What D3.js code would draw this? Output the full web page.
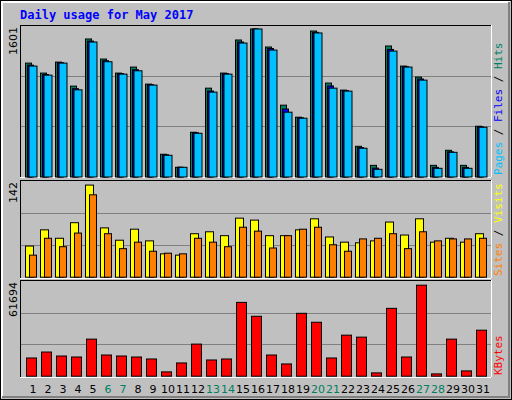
<!DOCTYPE html>
<html><head><meta charset="utf-8">
<script src="https://cdn.jsdelivr.net/npm/d3@7"></script>
<style>body{margin:0;background:#fff}svg{display:block}</style>
</head><body><div id="chart"></div>
<script>
const days = d3.range(1, 32);
const weekend = [6, 7, 13, 14, 20, 21, 27, 28];
const hits = [1232,1124,1243,983,1493,1276,1124,1189,1005,246,105,484,961,1124,1482,1601,1406,777,647,1579,1016,940,332,126,1417,1200,1081,126,289,126,549];
const files = [1210,1108,1236,955,1470,1258,1118,1160,998,240,105,478,930,1118,1460,1601,1390,735,640,1565,985,934,318,96,1380,1193,1060,104,272,104,542];
const pages = [1200,1102,1232,943,1460,1247,1113,1149,994,235,105,473,918,1113,1449,1601,1373,701,636,1558,961,929,311,83,1362,1189,1048,94,267,94,538];
const visits = [48,73,60,84,142,76,57,74,56,36,34,67,70,64,91,88,64,64,73,90,62,54,53,56,85,65,90,54,60,54,67];
const sites = [34,60,47,68,127,67,44,54,40,37,36,60,54,47,77,71,45,64,74,77,50,40,59,60,67,44,70,56,59,59,60];
const kbytes = [12338,16376,13684,13011,25125,14357,13684,13011,11666,2916,8973,21760,10993,11666,50027,40605,14357,8300,42624,36567,12338,27818,26471,2243,45990,13011,61694,1570,25125,3589,31183];

const C = { hits: '#008060', files: '#0000ff', pages: '#00c0ff', visits: '#ffff00', sites: '#ff8000', kb: '#ff0000', bg: '#c0c0c0' };

const svg = d3.select('#chart').append('svg').attr('width', 512).attr('height', 400)
  .style('font-family', 'DejaVu Sans, sans-serif');
svg.append('rect').attr('width', 512).attr('height', 400).attr('fill', C.bg);
// bevelled outer frame
svg.append('rect').attr('x', 0.5).attr('y', 0.5).attr('width', 511).attr('height', 399).attr('fill', 'none').attr('stroke', '#000');
svg.append('path').attr('d', 'M2,398V2H510').attr('fill', 'none').attr('stroke', '#fff').attr('stroke-width', 2);
svg.append('path').attr('d', 'M2,397H509V2').attr('fill', 'none').attr('stroke', '#808080').attr('stroke-width', 2);

svg.append('text').attr('x', 20).attr('y', 19).attr('fill', '#0000ff')
  .style('font-family', 'DejaVu Sans Mono, monospace').style('font-weight', 'bold').style('font-size', '12px')
  .text('Daily usage for May 2017');

const x = d3.scaleBand().domain(days).range([25, 490]).padding(0);

const panels = [
  { top: 25, bottom: 177, base: 176.5, max: 1628, label: '1601', series: [
      { v: hits, c: C.hits, dx: 0, w: 6 }, { v: files, c: C.files, dx: 2, w: 6 }, { v: pages, c: C.pages, dx: 3.5, w: 8 }],
    legend: [['Pages', C.pages], ['Files', C.files], ['Hits', C.hits]] },
  { top: 180, bottom: 278, base: 276.7, max: 147.5, label: '142', series: [
      { v: visits, c: C.visits, dx: 0, w: 8 }, { v: sites, c: C.sites, dx: 4, w: 7 }],
    legend: [['Sites', C.sites], ['Visits', C.visits]] },
  { top: 280, bottom: 377, base: 375.7, max: 64183, label: '61694', series: [
      { v: kbytes, c: C.kb, dx: 1, w: 10 }],
    legend: [['KBytes', C.kb]] },
];

panels.forEach(p => {
  const y = d3.scaleLinear().domain([0, p.max]).range([p.base, p.top + 1]);
  svg.append('rect').attr('x', 20.5).attr('y', p.top + 0.5).attr('width', 471).attr('height', p.bottom - p.top)
    .attr('fill', C.bg).attr('stroke', '#000');
  svg.append('path').attr('d', `M491.5,${p.top}V${p.bottom + 0.5}H20`).attr('fill', 'none').attr('stroke', '#fff');
  [1 / 3, 2 / 3].forEach(f => {
    const gy = Math.round(y(p.max * f)) + 0.5;
    svg.append('line').attr('x1', 21).attr('x2', 491).attr('y1', gy).attr('y2', gy).attr('stroke', '#808080');
  });
  p.series.forEach(s => {
    svg.append('g').selectAll('rect').data(days).join('rect')
      .attr('x', d => x(d) + s.dx + 0.5).attr('width', s.w)
      .attr('y', (d, i) => y(s.v[i]) + 0.5).attr('height', (d, i) => p.base - y(s.v[i]))
      .attr('fill', s.c).attr('stroke', '#000');
  });
  svg.append('text').attr('transform', `translate(17,${p.top + 2}) rotate(-90)`).attr('text-anchor', 'end')
    .style('font-size', '11px').attr('fill', '#000').text(p.label);
  const t = svg.append('text').attr('transform', `translate(502,${p.bottom - 2}) rotate(-90)`)
    .style('font-family', 'DejaVu Sans Mono, monospace').style('font-size', '11px');
  p.legend.forEach(([name, col], i) => {
    if (i) t.append('tspan').attr('fill', '#000').text(' / ');
    t.append('tspan').attr('fill', col).text(name);
  });
});

svg.append('g').selectAll('text').data(days).join('text')
  .attr('x', d => x(d) + x.bandwidth() / 2 + 0.5).attr('y', 393).attr('text-anchor', 'middle')
  .style('font-size', '11px').attr('fill', d => weekend.includes(d) ? '#008060' : '#000').text(d => d);
</script></body></html>
